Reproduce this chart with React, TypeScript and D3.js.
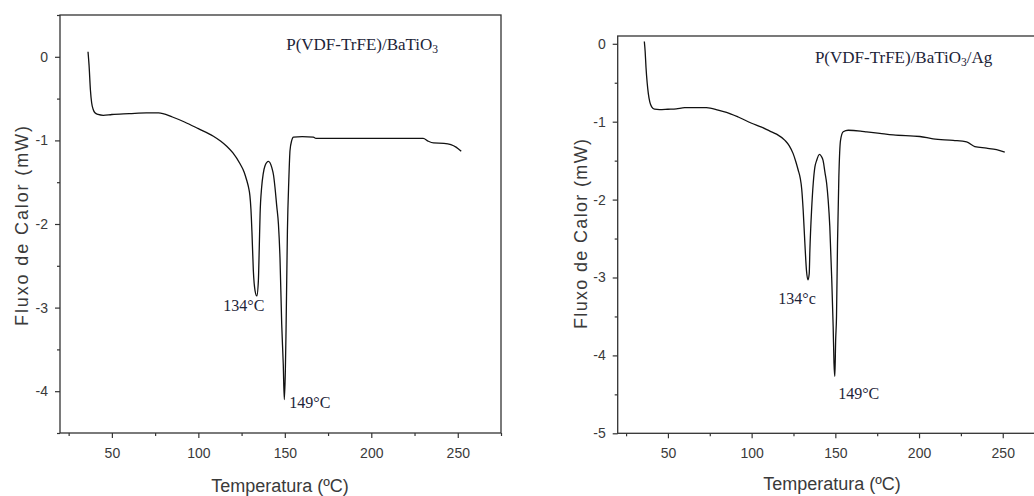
import React, { useEffect, useRef } from "react";
import * as d3 from "d3";

// ---- Data: panel A  P(VDF-TrFE)/BaTiO3 ----
const tempA = [36.2, 36.8, 37.6, 38.3, 39.2, 40.2, 42, 45, 50, 60, 70, 77, 85, 92, 100, 108.7, 113, 116.4, 120, 124.1, 126.5, 128, 129, 129.8, 130.4, 131, 131.8, 132.8, 133.8, 134.7, 135.2, 135.7, 136.6, 137.5, 138.6, 140.5, 142.4, 143.5, 144.3, 145.3, 146.3, 147.2, 148.2, 149.1, 149.7, 150.3, 150.7, 151.5, 152.3, 153, 154, 155, 160, 166.5, 168, 200, 230, 233, 236, 242, 246, 249, 252];
const fluxA = [0.06, -0.1, -0.4, -0.55, -0.63, -0.67, -0.69, -0.7, -0.69, -0.68, -0.67, -0.67, -0.72, -0.78, -0.86, -0.95, -1.01, -1.07, -1.15, -1.28, -1.38, -1.48, -1.56, -1.66, -1.82, -2.1, -2.56, -2.8, -2.86, -2.68, -2.3, -1.88, -1.56, -1.4, -1.3, -1.25, -1.32, -1.42, -1.56, -1.78, -2.0, -2.4, -3.2, -3.68, -4.1, -3.76, -3.28, -2.08, -1.48, -1.12, -1.0, -0.96, -0.955, -0.96, -0.975, -0.975, -0.975, -1.01, -1.03, -1.035, -1.05, -1.08, -1.13];

// ---- Data: panel B  P(VDF-TrFE)/BaTiO3/Ag ----
const tempB = [35.9, 36.4, 36.9, 37.6, 38.3, 39.2, 40.3, 42, 45, 50, 55, 60, 65, 73, 80, 85, 92, 100, 106, 110.9, 114.9, 119.9, 122.5, 124.8, 126.5, 127.8, 129, 129.9, 130.8, 131.8, 132.8, 133.6, 134.4, 134.8, 135.8, 136.8, 137.8, 138.8, 140.5, 141.8, 142.7, 143.8, 144.8, 145.7, 146.7, 147.8, 148.7, 149.2, 149.7, 150.2, 150.7, 151.3, 152.1, 153.1, 154.7, 157.7, 165, 168.7, 176.6, 184.6, 200.5, 208.4, 220.4, 228.4, 233.3, 240.3, 246.3, 251.2];
const fluxB = [0.03, -0.1, -0.3, -0.5, -0.64, -0.75, -0.81, -0.84, -0.845, -0.84, -0.835, -0.82, -0.82, -0.82, -0.85, -0.88, -0.94, -1.02, -1.07, -1.12, -1.16, -1.24, -1.31, -1.41, -1.52, -1.62, -1.72, -1.86, -2.14, -2.56, -2.92, -3.03, -2.95, -2.65, -2.14, -1.79, -1.58, -1.5, -1.42, -1.45, -1.5, -1.65, -1.79, -2.0, -2.35, -2.99, -3.63, -4.1, -4.27, -3.8, -3.5, -2.56, -1.71, -1.24, -1.13, -1.11, -1.12, -1.13, -1.15, -1.17, -1.19, -1.22, -1.24, -1.26, -1.32, -1.34, -1.36, -1.39];

// ---- Ticks ----
const xMajor = [50, 100, 150, 200, 250];
const xMinor = [25, 75, 125, 175, 225, 275];
const yMajorA = [-4, -3, -2, -1, 0];
const yMinorA = [-4.5, -3.5, -2.5, -1.5, -0.5, 0.5];
const yMajorB = [-5, -4, -3, -2, -1, 0];
const yMinorB = [-4.5, -3.5, -2.5, -1.5, -0.5];

const xTitle = "Temperatura (ºC)";
const yTitle = "Fluxo de Calor (mW)";

type Note = { t: number; v: number; text: string; size: number; sub?: string; after?: string };

type PanelCfg = {
  x0: number; x1: number; y0: number; y1: number;
  xDomain: [number, number]; yDomain: [number, number];
  temps: number[]; flux: number[];
  yMajor: number[]; yMinor: number[];
  notes: Note[];
  yTitleX: number; yTitleY: number; yTitleLen: number;
  xTitleX: number; xTitleY: number;
};

const panels: PanelCfg[] = [
  {
    x0: 60, x1: 501, y0: 15, y1: 433,
    xDomain: [20, 275], yDomain: [-4.5, 0.5],
    temps: tempA, flux: fluxA, yMajor: yMajorA, yMinor: yMinorA,
    notes: [
      { t: 150.8, v: 0.08, text: "P(VDF-TrFE)/BaTiO", sub: "3", size: 17 },
      { t: 114.4, v: -3.04, text: "134°C", size: 16 },
      { t: 152.6, v: -4.2, text: "149°C", size: 16 },
    ],
    yTitleX: 28, yTitleY: 226, yTitleLen: 200,
    xTitleX: 280, xTitleY: 492,
  },
  {
    x0: 617.7, x1: 1044.6, y0: 36, y1: 433.3,
    xDomain: [20, 275], yDomain: [-5, 0.1],
    temps: tempB, flux: fluxB, yMajor: yMajorB, yMinor: yMinorB,
    notes: [
      { t: 137.8, v: -0.25, text: "P(VDF-TrFE)/BaTiO", sub: "3", after: "/Ag", size: 17 },
      { t: 115.9, v: -3.34, text: "134°c", size: 16 },
      { t: 151.7, v: -4.56, text: "149°C", size: 16 },
    ],
    yTitleX: 587, yTitleY: 234, yTitleLen: 190,
    xTitleX: 832, xTitleY: 490,
  },
];

const AXIS = "#333";
const LABEL = "#3a3a3a";

function Panel({ cfg }: { cfg: PanelCfg }) {
  const ref = useRef<SVGGElement>(null);
  useEffect(() => {
    const g = d3.select(ref.current);
    g.selectAll("*").remove();
    const x = d3.scaleLinear().domain(cfg.xDomain).range([cfg.x0, cfg.x1]);
    const y = d3.scaleLinear().domain(cfg.yDomain).range([cfg.y1, cfg.y0]);

    // frame
    g.append("rect")
      .attr("x", cfg.x0).attr("y", cfg.y0)
      .attr("width", cfg.x1 - cfg.x0).attr("height", cfg.y1 - cfg.y0)
      .attr("fill", "none").attr("stroke", AXIS).attr("stroke-width", 1.3);

    const style = (sel: any) => {
      sel.select(".domain").remove();
      sel.selectAll("line").attr("stroke", AXIS).attr("stroke-width", 1.2);
      sel.selectAll("text")
        .attr("fill", LABEL)
        .attr("font-family", "'Liberation Sans', Arial, sans-serif")
        .attr("font-size", 14);
    };

    // x axis
    g.append("g").attr("transform", `translate(0,${cfg.y1})`)
      .call(d3.axisBottom(x).tickValues(xMinor).tickSize(3).tickFormat(() => ""))
      .call(style);
    g.append("g").attr("transform", `translate(0,${cfg.y1})`)
      .call(d3.axisBottom(x).tickValues(xMajor).tickSize(5).tickPadding(10).tickFormat(d3.format("d")))
      .call(style);

    // y axis
    g.append("g").attr("transform", `translate(${cfg.x0},0)`)
      .call(d3.axisLeft(y).tickValues(cfg.yMinor).tickSize(3).tickFormat(() => ""))
      .call(style);
    g.append("g").attr("transform", `translate(${cfg.x0},0)`)
      .call(d3.axisLeft(y).tickValues(cfg.yMajor).tickSize(5).tickPadding(7).tickFormat((d: any) => String(d)))
      .call(style);

    // curve
    const pts = cfg.temps.map((t, i) => [t, cfg.flux[i]] as [number, number]);
    const line = d3.line<[number, number]>()
      .x((d) => x(d[0]))
      .y((d) => y(d[1]))
      .curve(d3.curveMonotoneX);
    g.append("path").attr("d", line(pts) as string)
      .attr("fill", "none").attr("stroke", "#111").attr("stroke-width", 1.3)
      .attr("stroke-linejoin", "round");

    // notes
    cfg.notes.forEach((n) => {
      const t = g.append("text")
        .attr("x", x(n.t)).attr("y", y(n.v))
        .attr("font-family", "'Liberation Serif', 'Times New Roman', serif")
        .attr("font-size", n.size).attr("fill", "#1d2438");
      t.append("tspan").text(n.text);
      if (n.sub) t.append("tspan").attr("dy", 3).attr("font-size", n.size * 0.68).text(n.sub);
      if (n.after) t.append("tspan").attr("dy", -3).text(n.after);
    });

    // axis titles
    g.append("text")
      .attr("transform", `translate(${cfg.yTitleX},${cfg.yTitleY}) rotate(-90)`)
      .attr("text-anchor", "middle")
      .attr("font-family", "'Liberation Sans', Arial, sans-serif")
      .attr("font-size", 18).attr("fill", LABEL)
      .attr("textLength", cfg.yTitleLen).attr("lengthAdjust", "spacing")
      .text(yTitle);
    g.append("text")
      .attr("x", cfg.xTitleX).attr("y", cfg.xTitleY)
      .attr("text-anchor", "middle")
      .attr("font-family", "'Liberation Sans', Arial, sans-serif")
      .attr("font-size", 18).attr("fill", LABEL)
      .text(xTitle);
  }, [cfg]);
  return <g ref={ref} />;
}

export default function App() {
  return (
    <svg
      width={1034}
      height={496}
      style={{ position: "absolute", left: 0, top: 0, background: "#fff" }}
    >
      <rect x={0} y={0} width={1034} height={496} fill="#fff" />
      {panels.map((p, i) => (
        <Panel key={i} cfg={p} />
      ))}
    </svg>
  );
}
